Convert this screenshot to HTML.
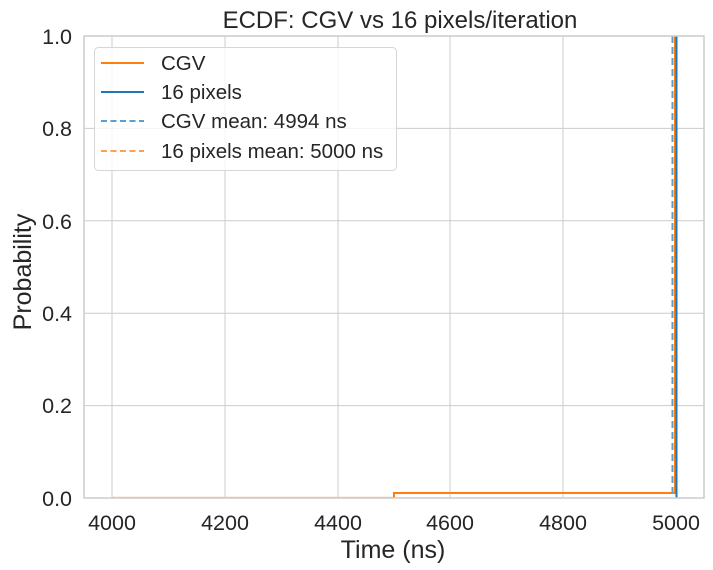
<!DOCTYPE html>
<html><head><style>body{margin:0;background:#fff}svg{display:block}text{font-family:"Liberation Sans",Arial,sans-serif;fill:#262626}</style></head>
<body>
<svg width="713" height="570" xmlns="http://www.w3.org/2000/svg">
<rect width="713" height="570" fill="#fff"/>
<g stroke="#cccccc" stroke-width="1">
<line x1="112" y1="36" x2="112" y2="498"/><line x1="225" y1="36" x2="225" y2="498"/><line x1="338" y1="36" x2="338" y2="498"/><line x1="450" y1="36" x2="450" y2="498"/><line x1="563" y1="36" x2="563" y2="498"/><line x1="676" y1="36" x2="676" y2="498"/>
<line x1="84" y1="405.6" x2="704" y2="405.6"/><line x1="84" y1="313.2" x2="704" y2="313.2"/><line x1="84" y1="220.8" x2="704" y2="220.8"/><line x1="84" y1="128.4" x2="704" y2="128.4"/>
</g>
<line x1="112" y1="497.5" x2="394" y2="497.5" stroke="#f0c8a8" stroke-width="1.5"/>
<polyline points="394,497.5 394,493 675,493 675,36" fill="none" stroke="#ff7f0e" stroke-width="2"/>
<line x1="676.5" y1="36" x2="676.5" y2="498" stroke="#1f77b4" stroke-width="2"/>
<line x1="672.5" y1="36" x2="672.5" y2="498" stroke="#5a9fd0" stroke-width="2" stroke-dasharray="7,4"/>
<rect x="84" y="36" width="620" height="462" fill="none" stroke="#cccccc" stroke-width="1.5"/>
<g font-size="21.5" text-anchor="middle">
<text x="112" y="530">4000</text><text x="225" y="530">4200</text><text x="338" y="530">4400</text><text x="450" y="530">4600</text><text x="563" y="530">4800</text><text x="676" y="530">5000</text>
</g>
<g font-size="21.5" text-anchor="end">
<text x="72" y="506">0.0</text><text x="72" y="413">0.2</text><text x="72" y="321">0.4</text><text x="72" y="229">0.6</text><text x="72" y="136">0.8</text><text x="72" y="44">1.0</text>
</g>
<text x="393" y="558" font-size="25" text-anchor="middle">Time (ns)</text>
<text transform="translate(31,272) rotate(-90)" font-size="25" text-anchor="middle">Probability</text>
<text x="400" y="28" font-size="24" text-anchor="middle">ECDF: CGV vs 16 pixels/iteration</text>
<rect x="94.5" y="47.5" width="302" height="123" rx="4" fill="#fff" fill-opacity="0.8" stroke="#d6d6d6"/>
<line x1="101" y1="63" x2="144" y2="63" stroke="#ff7f0e" stroke-width="2"/>
<line x1="101" y1="92" x2="144" y2="92" stroke="#1f77b4" stroke-width="2"/>
<line x1="101" y1="121" x2="144" y2="121" stroke="#5a9fd0" stroke-width="2" stroke-dasharray="6,3.5"/>
<line x1="101" y1="151" x2="144" y2="151" stroke="#ffa050" stroke-width="2" stroke-dasharray="6,3.5"/>
<g font-size="20.5">
<text x="161" y="70">CGV</text><text x="161" y="99">16 pixels</text><text x="161" y="128">CGV mean: 4994 ns</text><text x="161" y="158">16 pixels mean: 5000 ns</text>
</g>
</svg>
</body></html>
